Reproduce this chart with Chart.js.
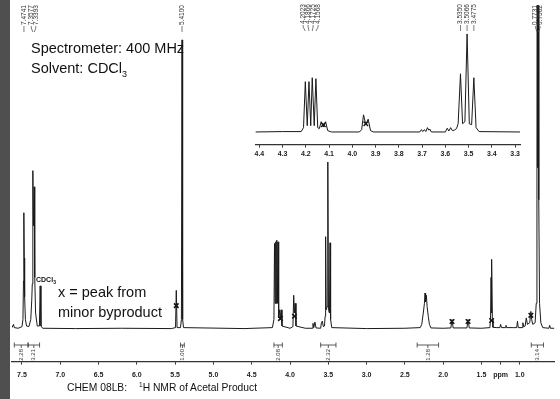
<!DOCTYPE html>
<html>
<head>
<meta charset="utf-8">
<script src="https://cdn.jsdelivr.net/npm/chart.js@4.4.0/dist/chart.umd.min.js"></script>
<style>
  body { margin:0; width:560px; height:399px; background:#fff; overflow:hidden; position:relative;
         font-family:"Liberation Sans", Arial, sans-serif; color:#111; }
  #strip { position:absolute; left:0; top:0; width:10px; height:399px; background:#4f4f4f; }
  #main { position:absolute; left:0; top:0; }
  #inset { position:absolute; left:250px; top:0; background:#fff; }
  .note { position:absolute; white-space:nowrap; line-height:1; }
  .big { font-size:14.5px; }
  .sub { position:relative; top:4px; font-size:9px; }
</style>
</head>
<body>
<div id="strip"></div>
<canvas id="main" width="560" height="399"></canvas>
<canvas id="inset" width="280" height="162"></canvas>

<div class="note big" style="left:31px; top:41px;">Spectrometer: 400 MHz</div>
<div class="note big" style="left:31px; top:61px;">Solvent: CDCl<span class="sub">3</span></div>
<div class="note big" style="left:58px; top:285px;">x = peak from</div>
<div class="note big" style="left:58px; top:305px;">minor byproduct</div>
<div class="note" style="left:36px; top:276px; font-size:7px; font-weight:bold;">CDCl<span style="position:relative; top:2px; font-size:5px;">3</span></div>
<div class="note" style="left:67px; top:383px; font-size:10.3px;">CHEM 08LB:</div>
<div class="note" style="left:139px; top:383px; font-size:10.3px;"><span style="position:relative; top:-4px; font-size:6.5px;">1</span>H NMR of Acetal Product</div>

<script>
// ===== Dados do espectro (ppm, intensidade) =====
const mainSpectrum = [
  [7.63,0.05],[7.61,0.15],[7.60,0.05],[7.55,0.03],[7.50,0.08],[7.487,0.3],[7.480,1.5],[7.4765,3.1],
  [7.4741,3.6],[7.470,2.2],[7.465,1.0],[7.455,0.3],[7.44,0.1],[7.41,0.08],[7.385,0.3],[7.372,0.9],
  [7.365,1.4],[7.3577,4.9],[7.350,3.2],[7.3393,4.4],[7.333,1.6],[7.322,0.5],[7.30,0.1],[7.272,0.1],
  [7.262,1.34],[7.252,0.1],[7.23,0.03],[6.8,0.02],[6.2,0.03],[5.55,0.02],[5.495,0.05],[5.485,1.2],
  [5.475,0.05],[5.43,0.05],[5.418,0.3],[5.41,8.94],[5.402,0.3],[5.39,0.05],[4.6,0.02],[4.23,0.05],
  [4.21,0.3],[4.2023,2.65],[4.195,0.8],[4.1866,2.7],[4.18,0.8],[4.1725,2.75],[4.165,0.8],[4.1568,2.7],
  [4.148,0.35],[4.135,0.6],[4.125,0.35],[4.115,0.6],[4.105,0.1],[4.0,0.03],[3.962,0.08],[3.952,1.05],
  [3.942,0.5],[3.932,0.8],[3.922,0.1],[3.8,0.03],[3.71,0.03],[3.70,0.18],[3.69,0.05],[3.675,0.22],
  [3.66,0.04],[3.6,0.03],[3.59,0.2],[3.578,0.25],[3.565,0.08],[3.55,0.1],[3.542,0.4],[3.535,2.86],
  [3.528,0.6],[3.515,0.7],[3.5066,5.4],[3.498,0.6],[3.485,0.5],[3.4775,2.67],[3.47,0.3],[3.455,0.05],
  [3.0,0.02],[2.5,0.03],[2.30,0.05],[2.28,0.15],[2.26,0.5],[2.245,0.8],[2.237,1.12],[2.23,0.85],
  [2.22,1.05],[2.21,0.7],[2.195,0.4],[2.18,0.15],[2.16,0.04],[2.0,0.03],[1.90,0.04],[1.885,0.3],
  [1.87,0.04],[1.69,0.04],[1.675,0.3],[1.66,0.04],[1.5,0.03],[1.39,0.05],[1.382,0.3],[1.375,1.6],
  [1.37,0.5],[1.365,2.16],[1.358,0.3],[1.35,0.06],[1.30,0.05],[1.26,0.05],[1.25,0.15],[1.24,0.05],
  [1.19,0.05],[1.18,0.12],[1.17,0.05],[1.08,0.05],[1.04,0.05],[1.03,0.25],[1.02,0.05],[0.97,0.05],
  [0.96,0.2],[0.95,0.08],[0.93,0.1],[0.915,0.35],[0.90,0.15],[0.87,0.2],[0.855,0.55],[0.845,0.3],
  [0.83,0.15],[0.80,0.2],[0.785,0.8],[0.776,4],[0.7731,15],[0.765,5],[0.7562,15],[0.752,4],
  [0.742,0.8],[0.725,0.2],[0.70,0.05],[0.62,0.03],[0.61,0.12],[0.60,0.03],[0.548,0.03]
];
const insetSpectrum = [
  [4.417,0.03],[4.3,0.05],[4.22,0.05],[4.21,0.25],[4.2023,2.58],[4.194,0.35],[4.1866,2.58],[4.179,0.35],
  [4.1725,2.78],[4.164,0.35],[4.1568,2.73],[4.149,0.25],[4.142,0.2],[4.134,0.55],[4.125,0.28],[4.115,0.55],
  [4.106,0.1],[4.09,0.03],[3.97,0.03],[3.96,0.15],[3.952,0.9],[3.942,0.4],[3.932,0.68],[3.922,0.1],
  [3.91,0.03],[3.71,0.03],[3.703,0.15],[3.697,0.05],[3.69,0.15],[3.684,0.05],[3.677,0.25],[3.671,0.12],
  [3.667,0.18],[3.66,0.03],[3.6,0.03],[3.592,0.22],[3.585,0.08],[3.577,0.25],[3.57,0.1],[3.562,0.12],
  [3.552,0.2],[3.545,0.45],[3.535,2.98],[3.526,0.45],[3.516,0.55],[3.5066,5.0],[3.497,0.45],[3.487,0.4],
  [3.4775,2.78],[3.468,0.25],[3.455,0.05],[3.279,0.03]
];

// Marcas "x" (subproduto)
const mainMarks = [[5.485,0.73],[4.125,0.33],[3.942,0.4],[1.885,0.24],[1.675,0.24],[1.368,0.27],[0.855,0.43]];
const insetMarks = [[4.125,0.4],[3.942,0.45]];

// Integrais
const integralFrom = [7.60, 7.42, 5.43, 4.21, 3.60, 2.34, 0.85];
const integralTo = [7.42, 7.27, 5.38, 4.10, 3.40, 2.06, 0.69];
const integralLabels = ["2.28", "3.21", "1.00", "2.08", "2.32", "1.28", "3.14"];

// Rótulos de picos
const mainPeakPpm = [7.4741, 7.3577, 7.3393, 5.4100, 0.7731, 0.7562];
const insetPeakPpm = [4.2023, 4.1866, 4.1725, 4.1568, 3.5350, 3.5066, 3.4775];

// Eixos
const mainTickValues = [7.5, 7.0, 6.5, 6.0, 5.5, 5.0, 4.5, 4.0, 3.5, 3.0, 2.5, 2.0, 1.5, 1.25, 1.0];
const mainTickLabels = ["7.5", "7.0", "6.5", "6.0", "5.5", "5.0", "4.5", "4.0", "3.5", "3.0", "2.5", "2.0", "1.5", "ppm", "1.0"];
const insetTickValues = [4.4, 4.3, 4.2, 4.1, 4.0, 3.9, 3.8, 3.7, 3.6, 3.5, 3.4, 3.3];
const insetTickLabels = ["4.4", "4.3", "4.2", "4.1", "4.0", "3.9", "3.8", "3.7", "3.6", "3.5", "3.4", "3.3"];

const FONT = "'Liberation Sans', Arial, sans-serif";
const INK = "#1a1a1a";

const toXY = arr => arr.map(p => ({ x: p[0], y: p[1] }));

// ===== Rótulos verticais dos picos =====
function drawPeakLabels(chart, ppms, textBottom, leadEnd, gap) {
  const { ctx, scales: { x } } = chart;
  const px = ppms.map(p => x.getPixelForValue(p));
  const pos = px.slice();
  let i = 0;
  while (i < px.length) {
    let j = i;
    while (j + 1 < px.length && Math.abs(px[j + 1] - px[j]) < gap) j++;
    const n = j - i + 1;
    if (n > 1) {
      const mid = (px[i] + px[j]) / 2;
      for (let k = i; k <= j; k++) pos[k] = mid + (k - i - (n - 1) / 2) * gap;
    }
    i = j + 1;
  }
  ctx.save();
  ctx.font = "6.5px " + FONT;
  ctx.fillStyle = "#333";
  ctx.strokeStyle = "#444";
  ctx.lineWidth = 0.7;
  ppms.forEach((p, k) => {
    ctx.save();
    ctx.translate(pos[k], textBottom);
    ctx.rotate(-Math.PI / 2);
    ctx.textAlign = "left";
    ctx.textBaseline = "middle";
    ctx.fillText(p.toFixed(4), 0, 0);
    ctx.restore();
    ctx.beginPath();
    ctx.moveTo(pos[k], textBottom + 1);
    ctx.lineTo(pos[k], textBottom + 3);
    ctx.lineTo(px[k], leadEnd);
    ctx.stroke();
  });
  ctx.restore();
}

const mainDecor = {
  id: "mainDecor",
  afterDatasetsDraw(chart) {
    const { ctx, scales: { x } } = chart;
    drawPeakLabels(chart, mainPeakPpm, 25, 32, 4.5);
    // integrais
    const y0 = 345;
    ctx.save();
    ctx.strokeStyle = "#333";
    ctx.fillStyle = "#333";
    ctx.lineWidth = 0.8;
    ctx.font = "6px " + FONT;
    integralFrom.forEach((a, k) => {
      const xa = x.getPixelForValue(a);
      const xb = x.getPixelForValue(integralTo[k]);
      const cx = (xa + xb) / 2;
      ctx.beginPath();
      ctx.moveTo(xa, y0); ctx.lineTo(xb, y0);
      ctx.moveTo(xa, y0 - 2.5); ctx.lineTo(xa, y0 + 2.5);
      ctx.moveTo(xb, y0 - 2.5); ctx.lineTo(xb, y0 + 2.5);
      ctx.moveTo(cx, y0); ctx.lineTo(cx, y0 + 3);
      ctx.stroke();
      ctx.save();
      ctx.translate(cx, y0 + 4);
      ctx.rotate(-Math.PI / 2);
      ctx.textAlign = "right";
      ctx.textBaseline = "middle";
      ctx.fillText(integralLabels[k], 0, 0);
      ctx.restore();
    });
    ctx.restore();
  }
};

const insetDecor = {
  id: "insetDecor",
  afterDatasetsDraw(chart) {
    drawPeakLabels(chart, insetPeakPpm, 24, 31, 5);
  }
};

function axisX(min, max, values, labels, pad) {
  return {
    type: "linear",
    reverse: true,
    min: min,
    max: max,
    afterBuildTicks: s => { s.ticks = values.map(v => ({ value: v })); },
    ticks: {
      autoSkip: false,
      maxRotation: 0,
      padding: pad,
      color: "#222",
      font: { size: 7, weight: "bold", family: FONT },
      callback: (v, i) => labels[i]
    },
    grid: { drawOnChartArea: false, tickLength: 3, color: "#333" },
    border: { color: "#333", width: 1.2 }
  };
}

new Chart(document.getElementById("main"), {
  type: "line",
  data: {
    datasets: [
      { data: toXY(mainSpectrum), borderColor: INK, borderWidth: 1, pointRadius: 0, tension: 0, fill: false },
      { type: "scatter", data: toXY(mainMarks), pointStyle: "crossRot", pointRadius: 3.2, borderColor: "#111", borderWidth: 1.6 }
    ]
  },
  options: {
    responsive: false,
    animation: false,
    layout: { padding: { left: 12, right: 0, top: 0, bottom: 14 } },
    plugins: { legend: { display: false }, tooltip: { enabled: false } },
    scales: {
      x: axisX(0.548, 7.63, mainTickValues, mainTickLabels, 6),
      y: { display: false, min: -1, max: 10 }
    }
  },
  plugins: [mainDecor]
});

new Chart(document.getElementById("inset"), {
  type: "line",
  data: {
    datasets: [
      { data: toXY(insetSpectrum), borderColor: INK, borderWidth: 1, pointRadius: 0, tension: 0, fill: false },
      { type: "scatter", data: toXY(insetMarks), pointStyle: "crossRot", pointRadius: 3.2, borderColor: "#111", borderWidth: 1.4 }
    ]
  },
  options: {
    responsive: false,
    animation: false,
    layout: { padding: { left: 5, right: 10, top: 30, bottom: 2 } },
    plugins: { legend: { display: false }, tooltip: { enabled: false } },
    scales: {
      x: axisX(3.279, 4.417, insetTickValues, insetTickLabels, 2),
      y: { display: false, min: -0.61, max: 5.2 }
    }
  },
  plugins: [insetDecor]
});
</script>
</body>
</html>
